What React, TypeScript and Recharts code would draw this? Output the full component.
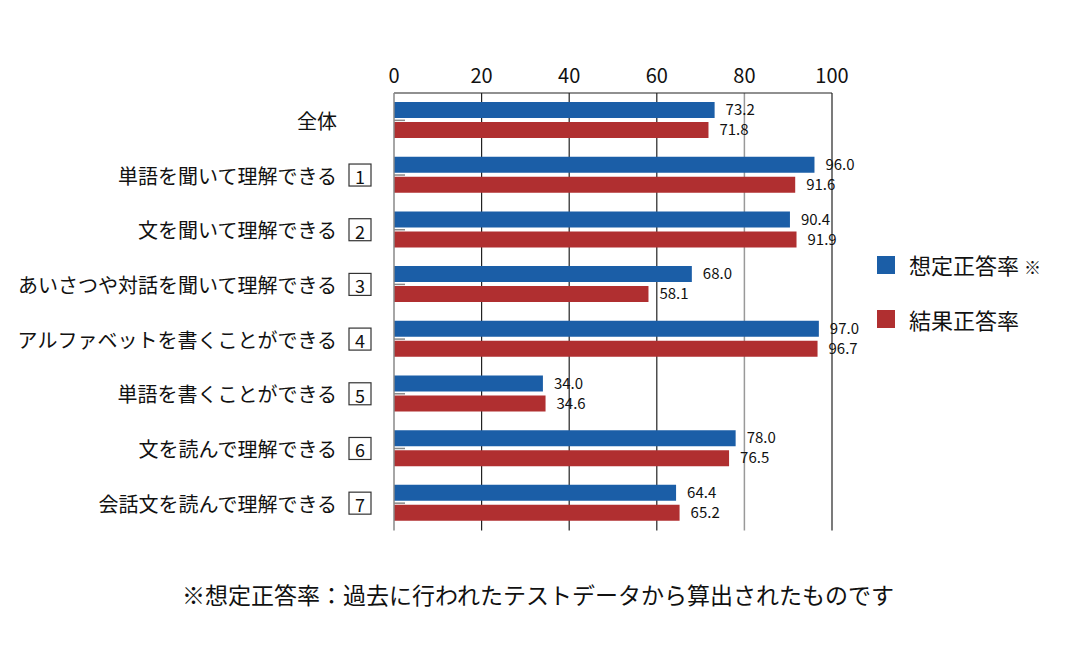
import React from "react";
import { BarChart, Bar, XAxis, YAxis, CartesianGrid, LabelList } from "recharts";

const categories = [
  "全体",
  "単語を聞いて理解できる",
  "文を聞いて理解できる",
  "あいさつや対話を聞いて理解できる",
  "アルファベットを書くことができる",
  "単語を書くことができる",
  "文を読んで理解できる",
  "会話文を読んで理解できる",
];
const boxNumbers = ["", "1", "2", "3", "4", "5", "6", "7"];
const expectedRate = [73.2, 96.0, 90.4, 68.0, 97.0, 34.0, 78.0, 64.4];
const resultRate = [71.8, 91.6, 91.9, 58.1, 96.7, 34.6, 76.5, 65.2];
const xTicks = [0, 20, 40, 60, 80, 100];
const darkGridValues = [20, 40, 60, 100];
const grayGridValues = [80];
const seriesNames = ["想定正答率", "結果正答率"];
const footnote = "※想定正答率：過去に行われたテストデータから算出されたものです";

const BLUE = "#1b5ea7";
const RED = "#b02f30";
const FONT = '"Noto Sans CJK JP", "Noto Sans", sans-serif';

const data = categories.map((name, i) => ({
  name,
  box: boxNumbers[i],
  expected: expectedRate[i],
  result: resultRate[i],
}));

const CategoryTick = (props: any) => {
  const { x, y, payload, index } = props;
  const num = boxNumbers[index];
  return (
    <g>
      <line x1={x} x2={x + 11} y1={y} y2={y} stroke="#888" strokeWidth={1.5} />
      <text
        x={x - 57}
        y={y}
        textAnchor="end"
        dominantBaseline="central"
        fontSize={20}
        fill="#111"
        fontFamily={FONT}
      >
        {payload.value}
      </text>
      {num && (
        <g>
          <rect x={x - 45} y={y - 11} width={22} height={22} fill="none" stroke="#333" strokeWidth={1.2} />
          <text
            x={x - 34}
            y={y + 1}
            textAnchor="middle"
            dominantBaseline="central"
            fontSize={18}
            fill="#111"
            fontFamily={FONT}
          >
            {num}
          </text>
        </g>
      )}
    </g>
  );
};

const fmt = (v: any) => Number(v).toFixed(1);

const gen = (values: number[]) => (props: any) => {
  const scale = props?.xAxis?.scale;
  if (typeof scale === "function") return values.map((v) => scale(v));
  if (scale && typeof scale.map === "function") return values.map((v) => scale.map(v));
  return [];
};

export default function App() {
  return (
    <div style={{ position: "absolute", left: 0, top: 0, width: 1080, height: 660, background: "#fff", fontFamily: FONT }}>
      <BarChart
        width={1080}
        height={660}
        data={data}
        layout="vertical"
        margin={{ top: 63, left: 14, right: 248, bottom: 129.5 }}
        barSize={16}
        barGap={4}
      >
        <CartesianGrid
          vertical={true}
          horizontal={false}
          stroke="#222"
          strokeWidth={1.2}
          verticalCoordinatesGenerator={gen(darkGridValues)}
        />
        <CartesianGrid
          vertical={true}
          horizontal={false}
          stroke="#999"
          strokeWidth={1.5}
          verticalCoordinatesGenerator={gen(grayGridValues)}
        />
        <XAxis
          type="number"
          orientation="top"
          domain={[0, 100]}
          ticks={xTicks}
          height={30}
          axisLine={{ stroke: "#222", strokeWidth: 1.2 }}
          tickLine={false}
          tickSize={0}
          tickMargin={10}
          tick={{ fontSize: 20, fill: "#111", fontFamily: FONT }}
          interval={0}
        />
        <YAxis
          type="category"
          dataKey="name"
          width={380}
          axisLine={{ stroke: "#888", strokeWidth: 1.5 }}
          tickLine={false}
          tickSize={0}
          tickMargin={0}
          tick={<CategoryTick />}
          interval={0}
        />
        <Bar dataKey="expected" name={seriesNames[0]} fill={BLUE} isAnimationActive={false}>
          <LabelList dataKey="expected" position="right" offset={11} formatter={fmt} fontSize={15} fill="#111" fontFamily={FONT} />
        </Bar>
        <Bar dataKey="result" name={seriesNames[1]} fill={RED} isAnimationActive={false}>
          <LabelList dataKey="result" position="right" offset={11} formatter={fmt} fontSize={15} fill="#111" fontFamily={FONT} />
        </Bar>
      </BarChart>
      <div style={{ position: "absolute", left: 877, top: 250, fontSize: 22, color: "#111", lineHeight: "30px" }}>
        <div style={{ display: "flex", alignItems: "center", height: 30 }}>
          <span style={{ display: "inline-block", width: 18, height: 18, background: BLUE, marginRight: 14 }} />
          <span>{seriesNames[0]} <span style={{ fontSize: 17 }}>※</span></span>
        </div>
        <div style={{ display: "flex", alignItems: "center", height: 30, marginTop: 24 }}>
          <span style={{ display: "inline-block", width: 18, height: 18, background: RED, marginRight: 14 }} />
          <span>{seriesNames[1]}</span>
        </div>
      </div>
      <div style={{ position: "absolute", left: 0, width: 1076, top: 579, textAlign: "center", fontSize: 23, color: "#111", lineHeight: "30px" }}>
        {footnote}
      </div>
    </div>
  );
}
